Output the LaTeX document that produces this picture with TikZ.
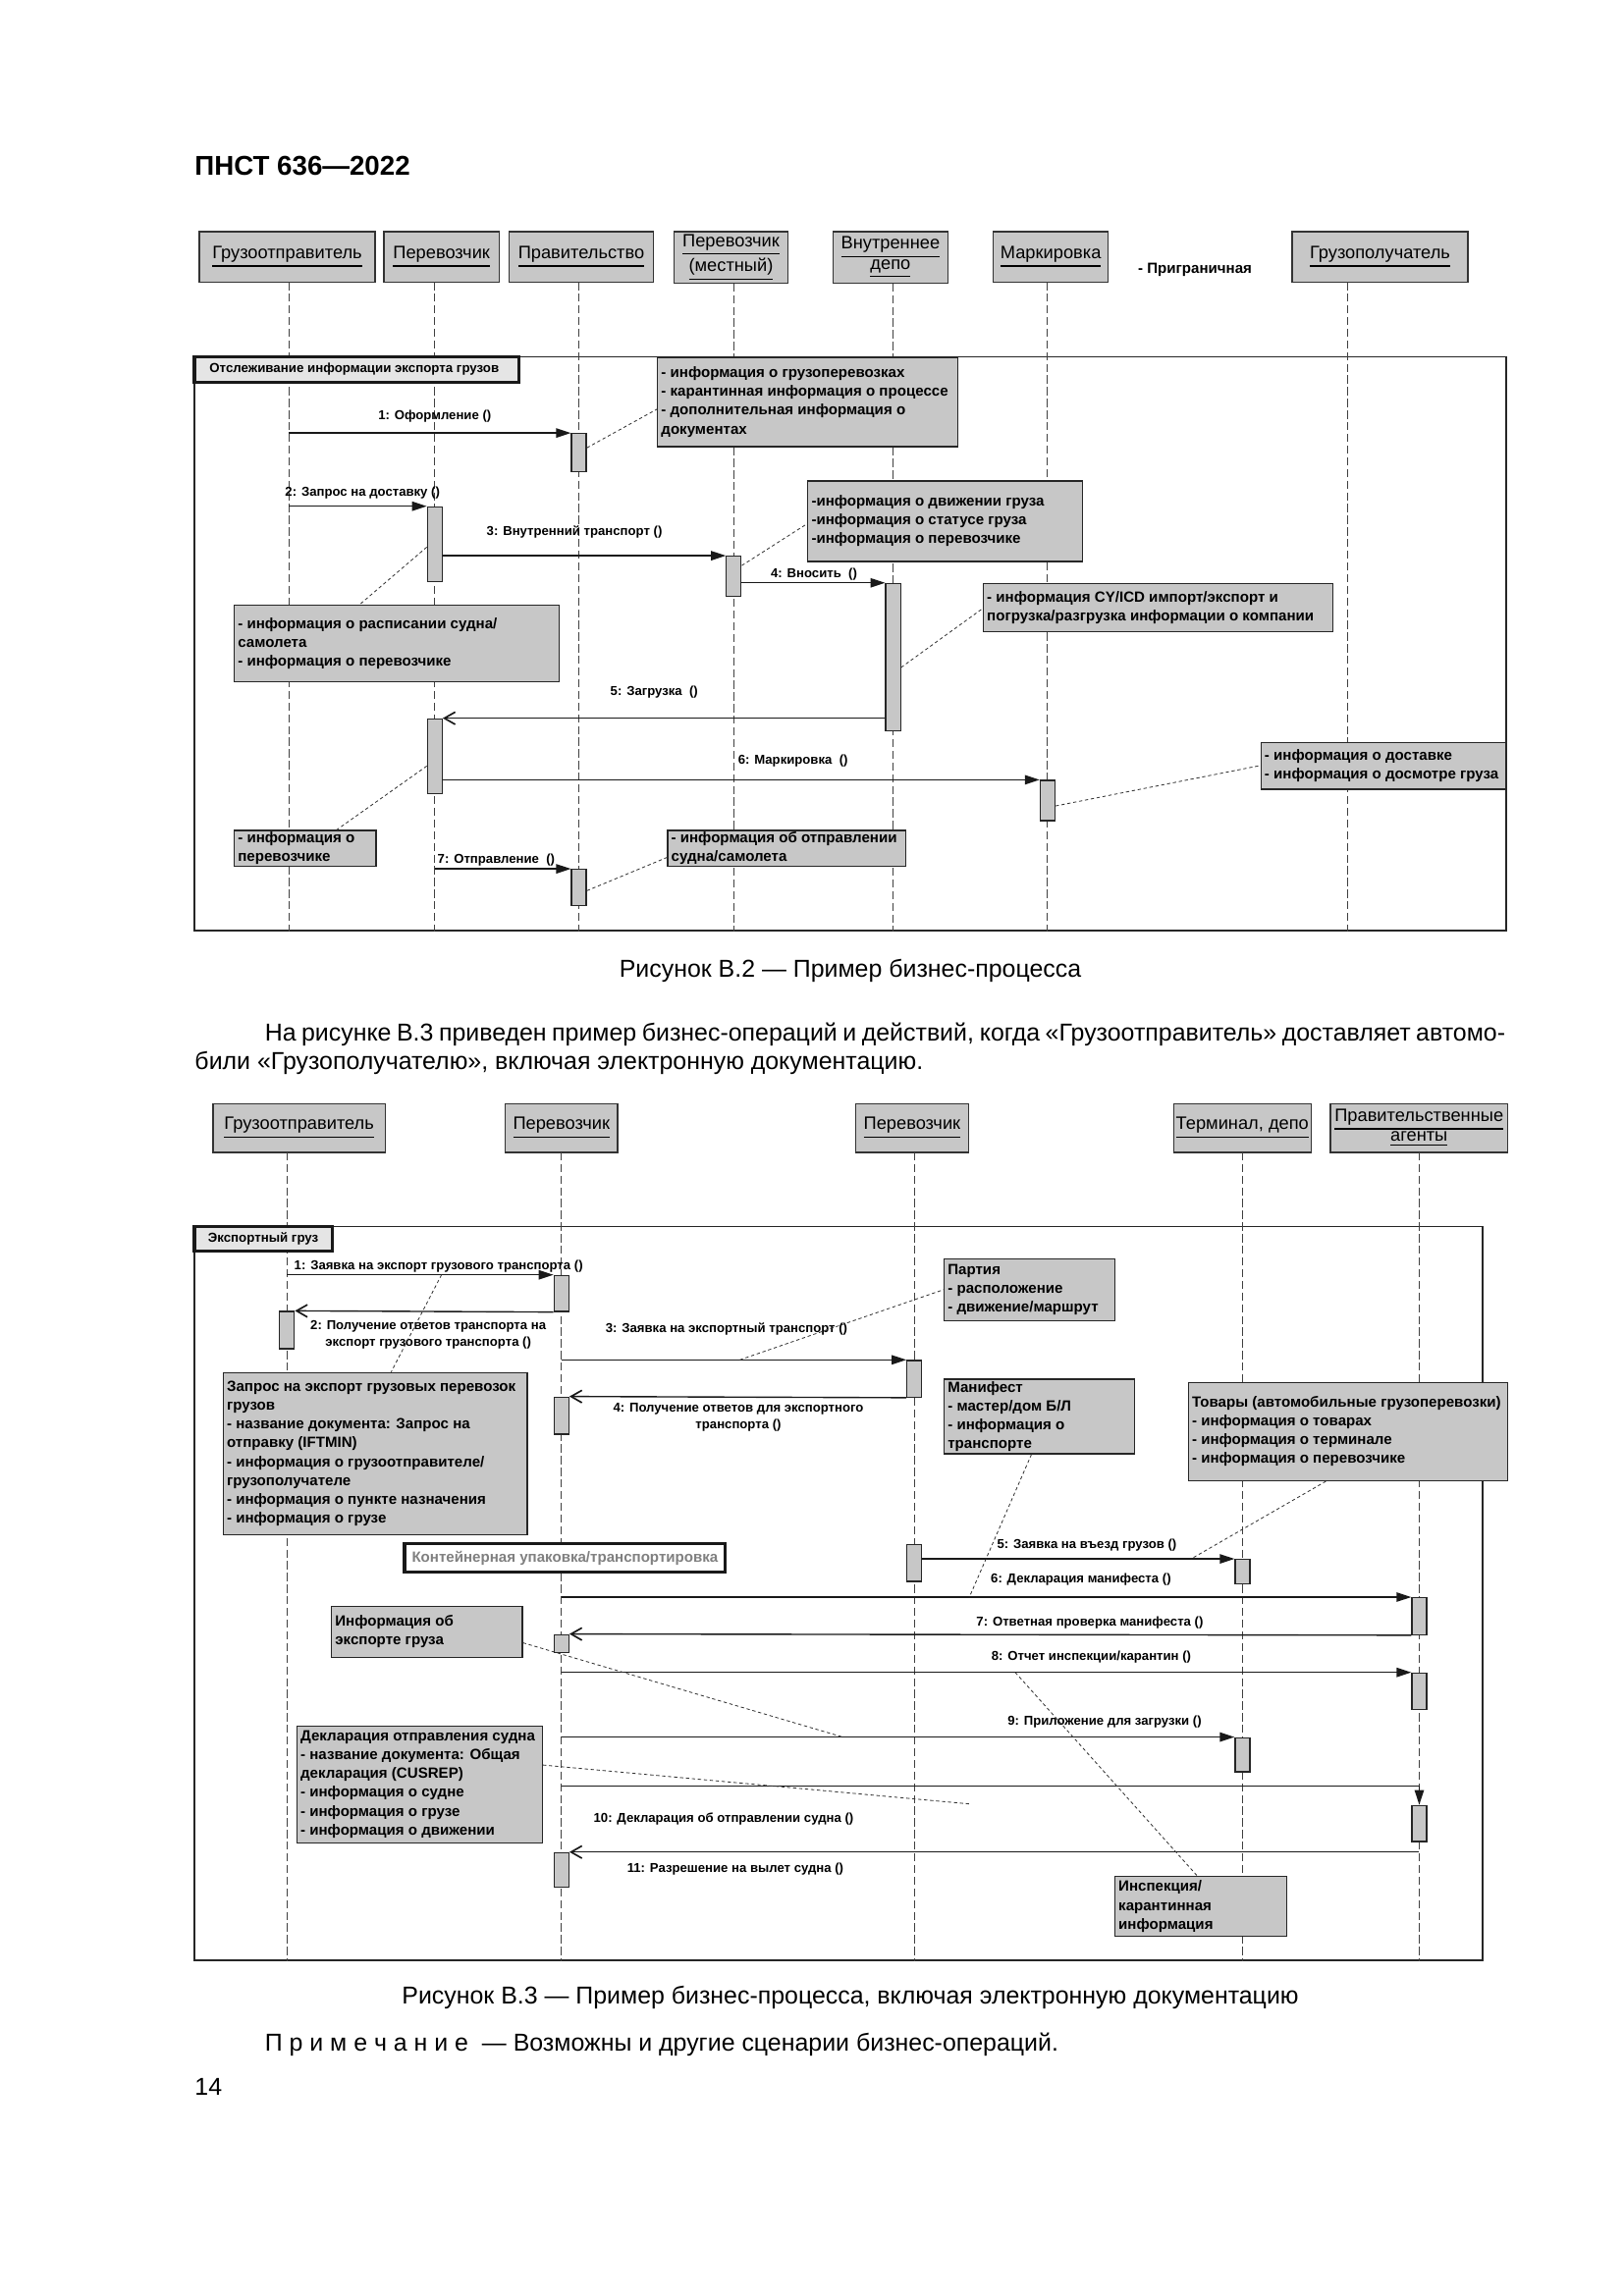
\documentclass[tikz,border=0pt]{standalone}
\usepackage{fontspec}
\setmainfont{Liberation Sans}
\usetikzlibrary{arrows.meta,fit,calc}
\newcommand\myheadline{\fontsize{10pt}{12pt}\selectfont\bfseries}
\newcommand\myhead{\fontsize{6.6pt}{7.4pt}\selectfont}
\newcommand\mynote{\fontsize{5.45pt}{6.9pt}\selectfont\bfseries}
\newcommand\mymsg{\fontsize{4.75pt}{6.3pt}\selectfont\bfseries}
\newcommand\mylbl{\fontsize{4.8pt}{5.6pt}\selectfont\bfseries}
\newcommand\mytext{\fontsize{9pt}{10.5pt}\selectfont}
\tikzset{
 headbox/.style={draw=black!80, fill=black!22, line width=0.5pt, inner sep=0pt},
 headtxt/.style={font=\myhead, align=center, inner sep=0pt},
 notebox/.style={draw=black!85, fill=black!22, line width=0.45pt, inner sep=0pt},
 notetxt/.style={font=\mynote, align=left, inner sep=0pt, anchor=west},
 actbox/.style={draw=black!85, fill=black!22, line width=0.45pt, inner sep=0pt},
 lifeline/.style={draw=black!75, line width=0.4pt, dash pattern=on 3pt off 1.3pt},
 msg/.style={draw=black!90, line width=0.5pt, -{Triangle[length=1.9mm,width=1.2mm]}},
 ret/.style={draw=black!90, line width=0.5pt, -{Straight Barb[length=1.4mm,width=1.6mm,line width=0.6pt]}},
 notelink/.style={draw=black!80, line width=0.3pt, dash pattern=on 1.2pt off 1pt},
 msgtxt/.style={font=\mymsg, inner sep=0pt, align=center},
 framebox/.style={draw=black!85, line width=0.6pt, inner sep=0pt},
 framelbl/.style={draw=black!90, fill=black!10, line width=1.2pt, inner sep=0pt},
 contbox/.style={draw=black!90, fill=white, line width=1.2pt, inner sep=0pt},
 pagetext/.style={font=\mytext, inner sep=0pt},
}
\newcommand\headnode[6]{\node[headbox, fit={(#2,#3)(#4,#5)}] (#1) {};
 \node[headtxt] (#1-t) at (#1.center) {#6};}
\newcommand\nbox[6]{\node[notebox, fit={(#2,#3)(#4,#5)}] (#1) {};
 \node[notetxt] (#1-t) at ($(#1.west)+(2.5,0)$) {#6};}
\newcommand\actnode[4]{\node[actbox, fit={({#2-5},#3)({#2+5},#4)}] (#1) {};}
\begin{document}
\begin{tikzpicture}[x=0.19096mm, y=-0.19096mm]
\useasboundingbox (0,0) rectangle (1099.7,1555.2);
\node[font=\myheadline, anchor=base west, inner sep=0pt] (title) at (131.6,118.6) {ПНСТ 636—2022};

% ================= Figure B.2 =================
\headnode{h1}{135}{157}{254}{191}{\underline{Грузоотправитель}}
\headnode{h2}{260}{157}{338}{191}{\underline{Перевозчик}}
\headnode{h3}{344.6}{157}{442.6}{191}{\underline{Правительство}}
\headnode{h4}{456.5}{157}{533.5}{192}{\underline{Перевозчик}\\\underline{(местный)}}
\headnode{h5}{564}{157}{642}{192}{\underline{Внутреннее}\\\underline{депо}}
\headnode{h6}{672.6}{157}{750.5}{191}{\underline{Маркировка}}
\headnode{h7}{875}{157}{994}{191}{\underline{Грузополучатель}}
\node[font=\mynote, anchor=west, inner sep=0pt] (prigr) at (770.3,182.8) {- Приграничная};

\node[framebox, fit={(131.6,241.6)(1020,630.5)}] (fr) {};
\coordinate (p1) at (195.8,191);
\coordinate (p2) at (294.4,191);
\coordinate (p3) at (392,191);
\coordinate (p4) at (496.9,192);
\coordinate (p5) at (604.8,192);
\coordinate (p6) at (709.4,191);
\coordinate (p7) at (912.3,191);
\foreach \p in {p1,p2,p3,p4,p5,p6,p7} {\draw[lifeline] (\p) -- (\p |- fr.south);}

\node[framelbl, fit={(131.6,241.6)(351.4,258.9)}] (frl) {};
\node[font=\mylbl, anchor=west, inner sep=0pt] (frl-t) at ($(frl.west)+(11,0)$) {Отслеживание информации экспорта грузов};

\nbox{n1}{445.3}{242}{648.5}{302.5}{- информация о грузоперевозках\\- карантинная информация о процессе\\- дополнительная информация о\\документах}
\nbox{n2}{547.1}{325.8}{733}{380.3}{-информация о движении груза\\-информация о статусе груза\\-информация о перевозчике}
\nbox{n3}{665.9}{395.2}{902.5}{427.7}{- информация CY/ICD импорт/экспорт и\\погрузка/разгрузка информации о компании}
\nbox{n4}{853.9}{503.1}{1020}{534.6}{- информация о доставке\\- информация о досмотре груза}
\nbox{n5}{158.7}{410}{378.5}{461.6}{- информация о расписании судна/\\самолета\\- информация о перевозчике}
\nbox{n6}{158.7}{562.5}{254.7}{586.6}{- информация о\\перевозчике}
\nbox{n7}{452.1}{562.5}{613.2}{586.6}{- информация об отправлении\\судна/самолета}

\actnode{a1}{392}{293.7}{319.3}
\actnode{a2}{294.4}{343.3}{393.8}
\actnode{a3}{496.9}{376.8}{403.8}
\actnode{a4}{604.8}{395.2}{494.9}
\actnode{a5}{294.4}{486.9}{537.5}
\actnode{a6}{709.4}{528.6}{555.9}
\actnode{a7}{392}{588.9}{613.2}

\draw[msg] (p1 |- a1.north) -- (a1.north west);
\draw[msg] (p1 |- a2.north) -- (a2.north west);
\draw[msg] (a2.east |- a3.north) -- (a3.north west);
\draw[msg] (a3.east |- a4.north) -- (a4.north west);
\draw[ret] (a4.west |- a5.north) -- (a5.north east);
\draw[msg] (a5.east |- a6.north) -- (a6.north west);
\draw[msg] (p2 |- a7.north) -- (a7.north west);

\node[msgtxt] (l1) at (294.4,281.9) {1: Оформление ()};
\node[msgtxt] (l2) at (245.5,333.6) {2: Запрос на доставку ()};
\node[msgtxt] (l3) at (389,360.2) {3: Внутренний транспорт ()};
\node[msgtxt] (l4) at (551.2,389.2) {4: Вносить\ \ ()};
\node[msgtxt] (l5) at (443,469) {5: Загрузка\ \ ()};
\node[msgtxt] (l6) at (537,515.3) {6: Маркировка\ \ ()};
\node[msgtxt, anchor=west] (l7) at (296,582.4) {7: Отправление\ \ ()};

\draw[notelink] ($(a1.north east)!0.38!(a1.south east)$) -- ($(n1.north west)!0.58!(n1.south west)$);
\draw[notelink] ($(a3.north east)!0.24!(a3.south east)$) -- ($(n2.north west)!0.53!(n2.south west)$);
\draw[notelink] ($(a4.north east)!0.57!(a4.south east)$) -- ($(n3.north west)!0.52!(n3.south west)$);
\draw[notelink] ($(a2.north west)!0.54!(a2.south west)$) -- ($(n5.north west)!0.386!(n5.north east)$);
\draw[notelink] ($(a5.north west)!0.63!(a5.south west)$) -- ($(n6.north west)!0.72!(n6.north east)$);
\draw[notelink] ($(a6.north east)!0.63!(a6.south east)$) -- ($(n4.north west)!0.49!(n4.south west)$);
\draw[notelink] ($(a7.north east)!0.59!(a7.south east)$) -- ($(n7.north west)!0.75!(n7.south west)$);

\node[pagetext, anchor=base] (cap2) at (575.8,662.2) {Рисунок В.2 — Пример бизнес-процесса};
\node[pagetext, anchor=base west] (par1) at (179,705.4) {\makebox[160.4mm][s]{На рисунке В.3 приведен пример бизнес-операций и действий, когда «Грузоотправитель» доставляет автомо-}};
\node[pagetext, anchor=base west] (par2) at (131.6,724.3) {били «Грузополучателю», включая электронную документацию.};

% ================= Figure B.3 =================
\headnode{H1}{144.4}{747.6}{260.8}{780.5}{\underline{Грузоотправитель}}
\headnode{H2}{342.2}{747.6}{418.2}{780.5}{\underline{Перевозчик}}
\headnode{H3}{579.5}{747.6}{655.8}{780.5}{\underline{Перевозчик}}
\headnode{H4}{794.7}{747.6}{887.9}{780.5}{\underline{Терминал, депо}}
\headnode{H5}{900.9}{747.6}{1021}{780.5}{\underline{Правительственные}\\\underline{агенты}}

\node[framebox, fit={(131.6,830.7)(1004.1,1328)}] (fr3) {};
\coordinate (q1) at (194.3,780.5);
\coordinate (q2) at (380.2,780.5);
\coordinate (q3) at (619.2,780.5);
\coordinate (q4) at (841.4,780.5);
\coordinate (q5) at (961.1,780.5);
\foreach \q in {q1,q2,q3,q4,q5} {\draw[lifeline] (\q) -- (\q |- fr3.south);}

\node[framelbl, fit={(131.6,830.7)(224.9,847.5)}] (fr3l) {};
\node[font=\mylbl, anchor=west, inner sep=0pt] (fr3l-t) at ($(fr3l.west)+(10,0)$) {Экспортный груз};

\nbox{NA}{151.2}{929.7}{357.1}{1039.4}{Запрос на экспорт грузовых перевозок\\грузов\\- название документа: Запрос на\\отправку (IFTMIN)\\- информация о грузоотправителе/\\грузополучателе\\- информация о пункте назначения\\- информация о грузе}
\nbox{NB}{639.4}{852.6}{754.9}{894.5}{Партия\\- расположение\\- движение/маршрут}
\nbox{NC}{639.4}{934.2}{768.2}{984.7}{Манифест\\- мастер/дом Б/Л\\- информация о\\транспорте}
\nbox{ND}{804.8}{936.4}{1021}{1002.9}{Товары (автомобильные грузоперевозки)\\- информация о товарах\\- информация о терминале\\- информация о перевозчике}
\node[contbox, fit={(274,1045.7)(491.2,1064.9)}] (NE) {};
\node[font=\mynote, text=black!50, inner sep=0pt] (NE-t) at (NE.center) {Контейнерная упаковка/транспортировка};
\nbox{NF}{224.5}{1088.2}{353.7}{1122.5}{Информация об\\экспорте груза}
\nbox{NG}{201.1}{1169.1}{367.3}{1248.2}{Декларация отправления судна\\- название документа: Общая\\декларация (CUSREP)\\- информация о судне\\- информация о грузе\\- информация о движении}
\nbox{NH}{755}{1271.1}{871.3}{1311.6}{Инспекция/\\карантинная\\информация}

\actnode{b1}{380.2}{863.9}{888.3}
\actnode{b2}{194.3}{888.3}{913.6}
\actnode{b3}{619.2}{921.5}{946.3}
\actnode{b4}{380.2}{946.3}{971.4}
\actnode{b5}{619.2}{1046.1}{1071.1}
\actnode{b6}{841.4}{1056.3}{1072.6}
\actnode{b7}{961.1}{1082.2}{1107.2}
\actnode{b8}{380.2}{1107.2}{1119.2}
\actnode{b9}{961.1}{1133.2}{1157.8}
\actnode{b10}{841.4}{1177}{1200.2}
\actnode{b11}{961.1}{1222.9}{1247.3}
\actnode{b12}{380.2}{1254.9}{1278.1}

\coordinate (m10s) at (380.2,1209.7);
\draw[msg] (q1 |- b1.north) -- coordinate[pos=0.58] (m1p) (b1.north west);
\draw[ret] (b1.south west) -- (b2.north east);
\draw[msg] (q2 |- b3.north) -- coordinate[pos=0.517] (m3p) (b3.north west);
\draw[ret] (b3.south west) -- (b4.north east);
\draw[msg] (b5.east |- b6.north) -- coordinate[pos=0.861] (m5p) (b6.north west);
\draw[msg] (q2 |- b7.north) -- coordinate[pos=0.48] (m6p) (b7.north west);
\draw[ret] (b7.south west) -- (b8.north east);
\draw[msg] (q2 |- b9.north) -- coordinate[pos=0.534] (m8p) (b9.north west);
\draw[msg] (q2 |- b10.north) -- coordinate[pos=0.418] (m9p) (b10.north west);
\draw[msg] (m10s) -| (b11.north);
\draw[ret] (q5 |- b12.north) -- (b12.north east);

\node[msgtxt] (L1) at (297,857.7) {1: Заявка на экспорт грузового транспорта ()};
\node[msgtxt] (L2) at (290,904) {2: Получение ответов транспорта на\\экспорт грузового транспорта ()};
\node[msgtxt] (L3) at (492,900.3) {3: Заявка на экспортный транспорт ()};
\node[msgtxt] (L4) at (500,960) {4: Получение ответов для экспортного\\транспорта ()};
\node[msgtxt] (L5) at (736,1046.5) {5: Заявка на въезд грузов ()};
\node[msgtxt] (L6) at (732,1069.8) {6: Декларация манифеста ()};
\node[msgtxt] (L7) at (738,1099.3) {7: Ответная проверка манифеста ()};
\node[msgtxt] (L8) at (739,1122.6) {8: Отчет инспекции/карантин ()};
\node[msgtxt] (L9) at (748,1166.4) {9: Приложение для загрузки ()};
\node[msgtxt] (L10) at (490,1231.8) {10: Декларация об отправлении судна ()};
\node[msgtxt] (L11) at (498,1266.2) {11: Разрешение на вылет судна ()};

\coordinate (d6e) at (656.7,1221.9);
\draw[notelink] (m1p) -- ($(NA.north west)!0.552!(NA.north east)$);
\draw[notelink] (m3p) -- (NB.west);
\draw[notelink] ($(NC.south west)!0.459!(NC.south east)$) -- (m6p);
\draw[notelink] ($(ND.south west)!0.431!(ND.south east)$) -- (m5p);
\draw[notelink] ($(NF.north east)!0.71!(NF.south east)$) -- (m9p);
\draw[notelink] ($(NG.north east)!0.336!(NG.south east)$) -- (d6e);
\draw[notelink] (m8p) -- ($(NH.north west)!0.48!(NH.north east)$);

\node[pagetext, anchor=base] (cap3) at (575.8,1357.5) {Рисунок В.3 — Пример бизнес-процесса, включая электронную документацию};
\node[pagetext, anchor=base west] (note) at (179,1389.6) {П р и м е ч а н и е\ \ — Возможны и другие сценарии бизнес-операций.};
\node[pagetext, anchor=base west] (pgnum) at (131.6,1419.5) {14};
\end{tikzpicture}
\end{document}
